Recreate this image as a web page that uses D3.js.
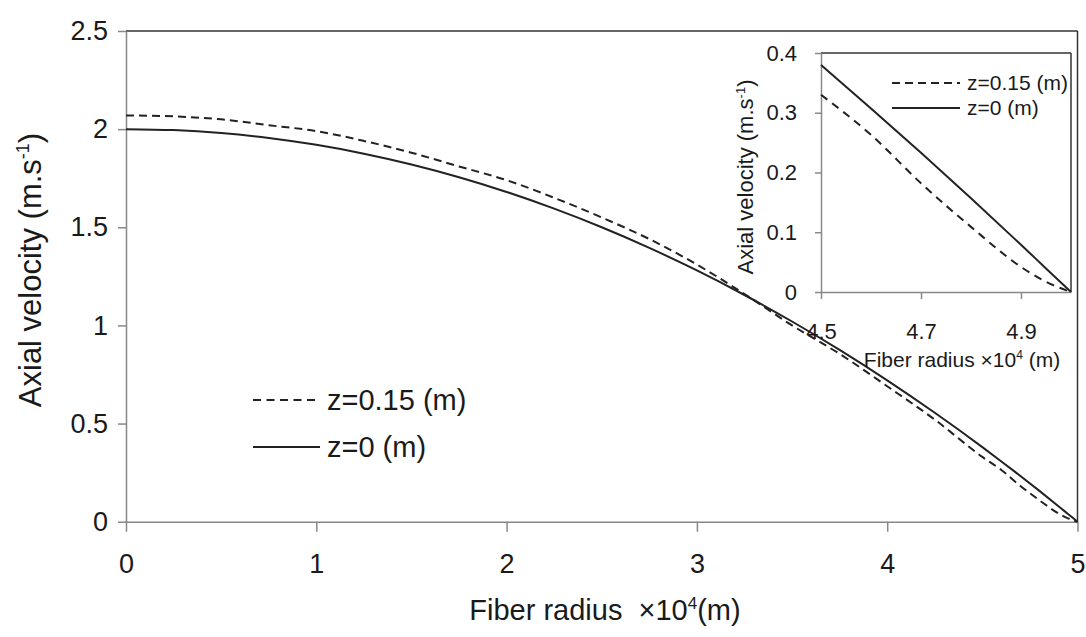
<!DOCTYPE html>
<html>
<head>
<meta charset="utf-8">
<script src="https://cdn.jsdelivr.net/npm/d3@7/dist/d3.min.js"></script>
<style>
  html, body { margin: 0; padding: 0; background: #fff; }
  svg { display: block; }
  text { font-family: "Liberation Sans", Arial, sans-serif; fill: #1a1a1a; }
</style>
</head>
<body>
<svg id="chart" width="1086" height="637"></svg>
<script>
// ---- data ----
const radius = [0, 0.25, 0.5, 0.75, 1.0, 1.25, 1.5, 1.75, 2.0, 2.25, 2.5, 2.75, 3.0, 3.25, 3.5, 3.75, 4.0, 4.25, 4.5, 4.6, 4.7, 4.8, 4.9, 4.95, 5.0];
const velZ015 = [2.07, 2.065, 2.05, 2.02, 1.99, 1.94, 1.88, 1.81, 1.74, 1.65, 1.55, 1.44, 1.31, 1.16, 1.0, 0.855, 0.69, 0.52, 0.33, 0.263, 0.182, 0.109, 0.042, 0.017, 0];
const velZ0   = [2.0, 1.995, 1.98, 1.955, 1.92, 1.875, 1.82, 1.755, 1.68, 1.595, 1.5, 1.395, 1.28, 1.155, 1.02, 0.875, 0.72, 0.555, 0.38, 0.307, 0.233, 0.157, 0.079, 0.0395, 0];
const seriesNames = ["z=0.15 (m)", "z=0 (m)"];
const xTicks = [0, 1, 2, 3, 4, 5];
const yTicks = [0, 0.5, 1, 1.5, 2, 2.5];
const insetXTicks = [4.5, 4.7, 4.9];
const insetYTicks = [0, 0.1, 0.2, 0.3, 0.4];

const svg = d3.select("#chart");
svg.append("rect").attr("width", 1086).attr("height", 637).attr("fill", "#fff");

const lineColor = "#222";
const axisColor = "#888";

// ---- main chart ----
const x = d3.scaleLinear().domain([0, 5]).range([126, 1077.5]);
const y = d3.scaleLinear().domain([0, 2.5]).range([521.7, 31]);

const ptsA = radius.map((r, i) => [r, velZ015[i]]);
const ptsB = radius.map((r, i) => [r, velZ0[i]]);

// frame top/right
svg.append("line").attr("x1", x(0)).attr("x2", x(5)).attr("y1", y(2.5)).attr("y2", y(2.5))
  .attr("stroke", "#333").attr("stroke-width", 1.5);
svg.append("line").attr("x1", x(5)).attr("x2", x(5)).attr("y1", y(2.5)).attr("y2", y(0))
  .attr("stroke", "#333").attr("stroke-width", 1.5);

const yAxis = svg.append("g").attr("transform", `translate(${x(0)},0)`)
  .call(d3.axisLeft(y).tickValues(yTicks).tickSize(8).tickSizeOuter(0).tickPadding(10).tickFormat(d3.format("")));
const xAxis = svg.append("g").attr("transform", `translate(0,${y(0)})`)
  .call(d3.axisBottom(x).tickValues(xTicks).tickSize(10).tickSizeOuter(0).tickPadding(22).tickFormat(d3.format("")));
[yAxis, xAxis].forEach(g => {
  g.select(".domain").attr("stroke", axisColor).attr("stroke-width", 1.5);
  g.selectAll(".tick line").attr("stroke", axisColor).attr("stroke-width", 1.5);
  g.selectAll(".tick text").attr("font-size", 27).attr("fill", "#1a1a1a")
    .style("font-family", '"Liberation Sans", Arial, sans-serif');
});

// axis titles
svg.append("text").attr("x", 605).attr("y", 620).attr("text-anchor", "middle").attr("font-size", 29)
  .call(t => {
    t.append("tspan").text("Fiber radius \u00a0×10");
    t.append("tspan").attr("font-size", 17).attr("dy", -11).text("4");
    t.append("tspan").attr("dy", 11).text("(m)");
  });
svg.append("text").attr("transform", "translate(41,270) rotate(-90)").attr("text-anchor", "middle").attr("font-size", 31)
  .call(t => {
    t.append("tspan").text("Axial velocity (m.s");
    t.append("tspan").attr("font-size", 18).attr("dy", -12).text("-1");
    t.append("tspan").attr("dy", 12).text(")");
  });

const line = d3.line().x(d => x(d[0])).y(d => y(d[1])).curve(d3.curveMonotoneX);
svg.append("path").datum(ptsA).attr("d", line).attr("fill", "none").attr("stroke", lineColor)
  .attr("stroke-width", 2).attr("stroke-dasharray", "8,5");
svg.append("path").datum(ptsB).attr("d", line).attr("fill", "none").attr("stroke", lineColor)
  .attr("stroke-width", 2);

// main legend
const legend = [
  { name: seriesNames[0], dash: "8,5.5", y: 400, x2: 316 },
  { name: seriesNames[1], dash: null, y: 447, x2: 320 }
];
legend.forEach(l => {
  svg.append("line").attr("x1", 253).attr("x2", l.x2).attr("y1", l.y).attr("y2", l.y)
    .attr("stroke", lineColor).attr("stroke-width", 2).attr("stroke-dasharray", l.dash);
  svg.append("text").attr("x", 327).attr("y", l.y + 10).attr("font-size", 29).text(l.name);
});

// ---- inset ----
const xi = d3.scaleLinear().domain([4.5, 5]).range([821, 1071]);
const yi = d3.scaleLinear().domain([0, 0.4]).range([292, 53]);
const inset = svg.append("g");

inset.append("line").attr("x1", xi(4.5)).attr("x2", xi(5)).attr("y1", yi(0.4)).attr("y2", yi(0.4))
  .attr("stroke", "#333").attr("stroke-width", 1.5);
inset.append("line").attr("x1", xi(5)).attr("x2", xi(5)).attr("y1", yi(0.4)).attr("y2", yi(0))
  .attr("stroke", "#333").attr("stroke-width", 1.5);

const yiAxis = inset.append("g").attr("transform", `translate(${xi(4.5)},0)`)
  .call(d3.axisLeft(yi).tickValues(insetYTicks).tickSize(6).tickSizeOuter(0).tickPadding(18).tickFormat(d3.format("")));
const xiAxis = inset.append("g").attr("transform", `translate(0,${yi(0)})`)
  .call(d3.axisBottom(xi).tickValues(insetXTicks).tickSize(7).tickSizeOuter(0).tickPadding(24).tickFormat(d3.format("")));
[yiAxis, xiAxis].forEach(g => {
  g.select(".domain").attr("stroke", axisColor).attr("stroke-width", 1.5);
  g.selectAll(".tick line").attr("stroke", axisColor).attr("stroke-width", 1.5);
  g.selectAll(".tick text").attr("font-size", 22).attr("fill", "#1a1a1a")
    .style("font-family", '"Liberation Sans", Arial, sans-serif');
});

inset.append("text").attr("x", 962).attr("y", 367).attr("text-anchor", "middle").attr("font-size", 21)
  .call(t => {
    t.append("tspan").text("Fiber radius ×10");
    t.append("tspan").attr("font-size", 12).attr("dy", -8).text("4");
    t.append("tspan").attr("dy", 8).text(" (m)");
  });
inset.append("text").attr("transform", "translate(753,177) rotate(-90)").attr("text-anchor", "middle").attr("font-size", 22)
  .call(t => {
    t.append("tspan").text("Axial velocity (m.s");
    t.append("tspan").attr("font-size", 13).attr("dy", -8).text("-1");
    t.append("tspan").attr("dy", 8).text(")");
  });

const inA = ptsA.filter(d => d[0] >= 4.5);
const inB = ptsB.filter(d => d[0] >= 4.5);
const lineI = d3.line().x(d => xi(d[0])).y(d => yi(d[1])).curve(d3.curveMonotoneX);
inset.append("path").datum(inA).attr("d", lineI).attr("fill", "none").attr("stroke", lineColor)
  .attr("stroke-width", 2).attr("stroke-dasharray", "8,6");
inset.append("path").datum(inB).attr("d", lineI).attr("fill", "none").attr("stroke", lineColor)
  .attr("stroke-width", 2);

const legendI = [
  { name: seriesNames[0], dash: "8,5", y: 83 },
  { name: seriesNames[1], dash: null, y: 108 }
];
legendI.forEach(l => {
  inset.append("line").attr("x1", 892).attr("x2", 960).attr("y1", l.y).attr("y2", l.y)
    .attr("stroke", lineColor).attr("stroke-width", 2).attr("stroke-dasharray", l.dash);
  inset.append("text").attr("x", 967).attr("y", l.y + 7).attr("font-size", 21).text(l.name);
});
</script>
</body>
</html>
